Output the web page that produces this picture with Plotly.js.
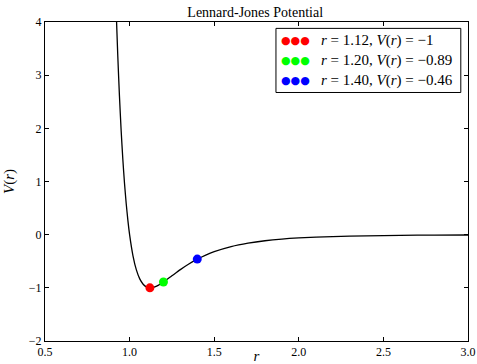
<!DOCTYPE html>
<html><head><meta charset="utf-8">
<script src="https://cdn.plot.ly/plotly-3.0.1.min.js"></script>
<style>html,body{margin:0;padding:0;background:#fff}</style>
</head><body><div id="chart" style="width:477px;height:364px"></div>
<script>
const rValues = [0.90,0.91,0.92,0.93,0.94,0.95,0.96,0.97,0.98,0.99,1.00,1.02,1.04,1.06,1.08,1.10,1.12,1.14,1.16,1.18,1.20,1.25,1.30,1.35,1.40,1.45,1.50,1.60,1.70,1.80,1.90,2.00,2.20,2.40,2.60,2.80,3.00];
const vValues = [6.636,5.360,4.283,3.373,2.607,1.961,1.418,0.963,0.582,0.264,0.000,-0.398,-0.663,-0.832,-0.932,-0.983,-1.000,-0.992,-0.968,-0.933,-0.891,-0.774,-0.657,-0.552,-0.461,-0.384,-0.320,-0.224,-0.159,-0.114,-0.083,-0.062,-0.035,-0.021,-0.013,-0.008,-0.006];
const pointR = [1.12, 1.20, 1.40];
const pointV = [-1.00, -0.89, -0.46];
const pointLabels = ["-1", "-0.89", "-0.46"];
const pointColors = ["#ff0000", "#00ff00", "#0000ff"];
const xTicks = [0.5,1.0,1.5,2.0,2.5,3.0];
const yTicks = [-2,-1,0,1,2,3,4];

const serif = "'Liberation Serif', 'Times New Roman', serif";
const traces = [{
  x: rValues, y: vValues, mode: "lines", type: "scatter",
  line: {color: "#000", width: 1.3, shape: "spline", smoothing: 0.6},
  showlegend: false, hoverinfo: "skip"
}];
pointR.forEach((r, i) => {
  traces.push({x: [r], y: [pointV[i]], mode: "markers", type: "scatter",
    marker: {color: pointColors[i], size: 9}, showlegend: false});
});

const annotations = [];
const rowY = [0.942, 0.880, 0.818];
pointR.forEach((r, i) => {
  annotations.push({xref: "paper", yref: "paper", x: 0.553, y: rowY[i], xanchor: "left", yanchor: "middle",
    showarrow: false, text: "●●●", font: {family: "DejaVu Sans", size: 11, color: pointColors[i]}});
  annotations.push({xref: "paper", yref: "paper", x: 0.648, y: rowY[i], xanchor: "left", yanchor: "middle",
    showarrow: false, text: "<i>r</i> = " + r.toFixed(2) + ", <i>V</i>(<i>r</i>) = " + pointLabels[i].replace("-", "\u2212"),
    font: {family: serif, size: 15, color: "#000"}});
});

const axisCommon = {showline: true, linecolor: "#000", linewidth: 1, mirror: "ticks", ticks: "inside",
  ticklen: 4, tickcolor: "#000", showgrid: false, zeroline: false, tickfont: {family: serif, size: 12, color: "#000"}};

Plotly.newPlot("chart", traces, {
  width: 477, height: 364,
  margin: {l: 45, r: 9, t: 22, b: 23},
  paper_bgcolor: "#fff", plot_bgcolor: "#fff",
  title: {text: "Lennard-Jones Potential", font: {family: serif, size: 14, color: "#000"}, x: 0.535, xanchor: "center", y: 0.968, yanchor: "middle"},
  xaxis: Object.assign({}, axisCommon, {range: [0.5, 3.0], tickvals: xTicks, ticktext: xTicks.map(v => v.toFixed(1)),
    title: {text: "<i>r</i>", font: {family: serif, size: 15, color: "#000"}, standoff: 0}}),
  yaxis: Object.assign({}, axisCommon, {range: [-2, 4], tickvals: yTicks,
    title: {text: "<i>V</i>(<i>r</i>)", font: {family: serif, size: 15, color: "#000"}, standoff: 10}}),
  shapes: [{type: "rect", xref: "paper", yref: "paper", x0: 0.546, x1: 0.983, y0: 0.779, y1: 0.980,
    line: {color: "#000", width: 1}, fillcolor: "#fff", layer: "above"}],
  annotations: annotations
}, {displayModeBar: false, staticPlot: true});
</script></body></html>
